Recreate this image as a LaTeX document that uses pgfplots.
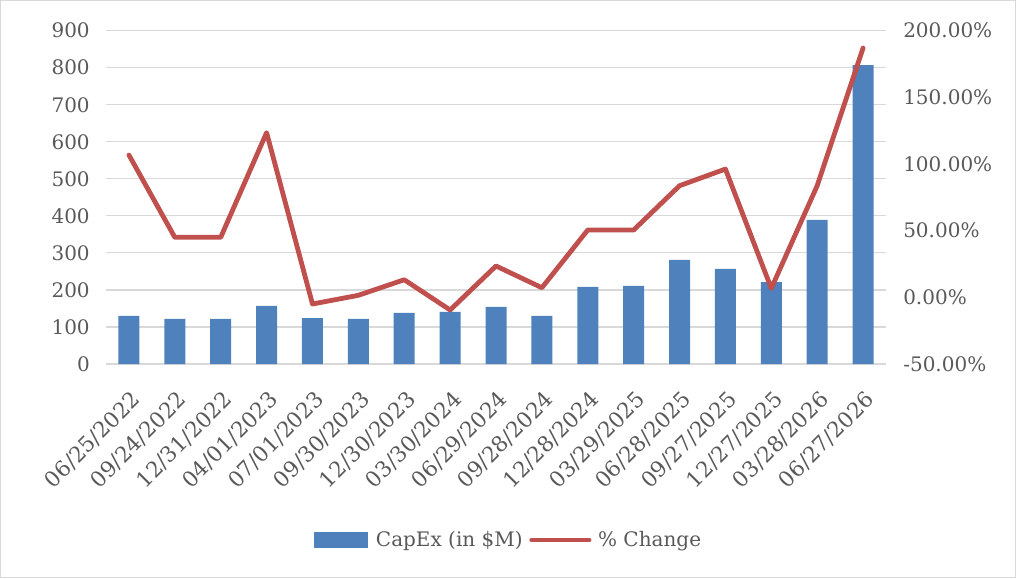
\documentclass[border=0pt]{standalone}
\usepackage{fontspec}
\setmainfont{DejaVu Serif}
\usepackage{pgfplots}
\pgfplotsset{compat=1.18}
\definecolor{barblue}{HTML}{4F81BD}
\definecolor{linered}{HTML}{C0504D}
\definecolor{gridgray}{HTML}{D9D9D9}
\definecolor{txtgray}{HTML}{595959}
\newcommand{\lblfont}{\fontsize{15}{18}\selectfont}
\newcommand{\xlblfont}{\fontsize{16.2}{19}\selectfont}
\begin{document}
\begin{tikzpicture}
\useasboundingbox (0,0) rectangle (762pt,433.5pt);
\draw[gridgray, line width=0.9pt] (0.45pt,0.45pt) rectangle (761.55pt,433.05pt);
\begin{axis}[
  at={(79.5pt,160.5pt)}, anchor=south west,
  width=585pt, height=250pt, scale only axis,
  xmin=-0.5, xmax=16.5, ymin=0, ymax=900,
  ytick={0,100,...,900},
  xtick={0,...,16},
  xticklabels={06/25/2022,09/24/2022,12/31/2022,04/01/2023,07/01/2023,09/30/2023,12/30/2023,03/30/2024,06/29/2024,09/28/2024,12/28/2024,03/29/2025,06/28/2025,09/27/2025,12/27/2025,03/28/2026,06/27/2026},
  axis line style={draw=none},
  major tick length=0pt,
  ymajorgrids, grid style={gridgray, line width=0.9pt},
  /pgf/number format/assume math mode=true,
  yticklabel style={font=\lblfont, text=txtgray, anchor=east, inner sep=0pt, xshift=-12pt},
  xticklabel style={yshift=-19pt, xshift=1pt, font=\xlblfont, text=txtgray, rotate=45, anchor=north east, inner sep=0pt},
]
\addplot[ybar, bar width=15.75pt, fill=barblue, draw=none] coordinates {
(0,130) (1,122) (2,122) (3,157) (4,124) (5,122) (6,138) (7,141) (8,154)
(9,130) (10,208) (11,211) (12,281) (13,257) (14,221) (15,389) (16,807)};
\end{axis}
\begin{axis}[
  at={(79.5pt,160.5pt)}, anchor=south west,
  width=585pt, height=250pt, scale only axis,
  xmin=-0.5, xmax=16.5, ymin=-50, ymax=200,
  xtick=\empty,
  ytick={-50,0,50,100,150,200},
  yticklabels={-50.00\%,0.00\%,50.00\%,100.00\%,150.00\%,200.00\%},
  yticklabel pos=right,
  axis line style={draw=none},
  major tick length=0pt,
  yticklabel style={font=\lblfont, text=txtgray, anchor=west, inner sep=0pt, xshift=12.75pt},
  legend columns=2,
  legend cell align=left,
  legend style={at={(0.5166,-0.528)}, anchor=center, draw=none, fill=none,
    font=\lblfont, text=txtgray,
    /tikz/every even column/.append style={column sep=3pt}},
]
\addlegendimage{legend image code/.code={\fill[barblue] (0pt,-5.6pt) rectangle (40pt,5.6pt); \path (44pt,0pt);}}
\addlegendentry{CapEx (in \$M)}
\addplot[linered, line width=3.6pt, line join=round, line cap=round,
  legend image code/.code={\draw[linered, line width=3.6pt, line cap=round] (0pt,0pt) -- (43pt,0pt); \path (46pt,0pt);}] coordinates {
(0,106.7) (1,45) (2,45) (3,123.5) (4,-5) (5,1.5) (6,13.2) (7,-9.5) (8,23.5)
(9,7.2) (10,50.5) (11,50.5) (12,83.7) (13,96.2) (14,6.7) (15,83.7) (16,187)};
\addlegendentry{\% Change}
\end{axis}
\end{tikzpicture}
\end{document}
